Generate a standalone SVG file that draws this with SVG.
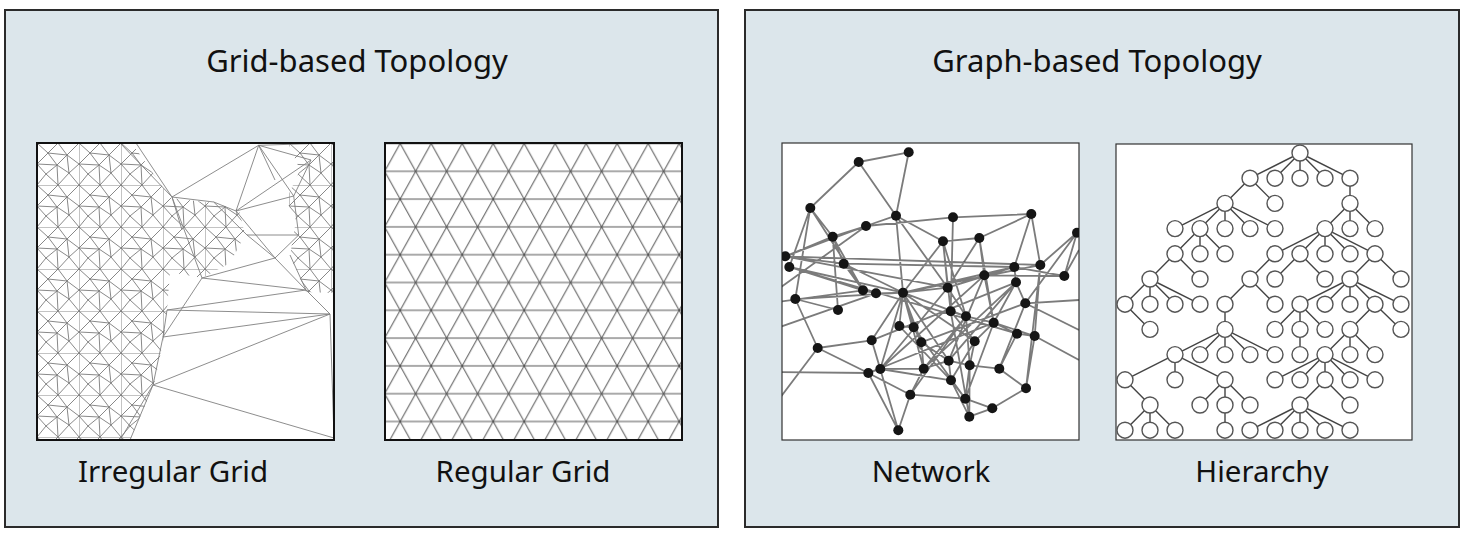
<svg xmlns="http://www.w3.org/2000/svg" width="1468" height="534" viewBox="0 0 1468 534">
<style>
.panel{fill:#dce6eb;stroke:#2b2b2b;stroke-width:2}
.title{font-family:"Noto Sans","Liberation Sans",sans-serif;font-size:31px;fill:#111;text-anchor:middle}
.lab{font-family:"Noto Sans","Liberation Sans",sans-serif;font-size:29.5px;fill:#111;text-anchor:middle}
.box{fill:#fff;stroke:#111;stroke-width:2}
.mesh{stroke:#808080;stroke-width:0.9;fill:none}
.net{stroke:#2a2a2a;stroke-opacity:0.62;stroke-width:1.8;fill:none}
.tree{stroke:#444;stroke-width:1.4;fill:none}
.tn{fill:#fff;stroke:#555;stroke-width:1.4}
.nn{fill:#151515}
</style>
<defs>
<pattern id="tri" patternUnits="userSpaceOnUse" x="400.2" y="199.1" width="31" height="55.6">
<path d="M0,0H31M0,27.8H31M0,55.6H31M0,0L31,55.6M31,0L0,55.6" stroke="#555" stroke-width="1" fill="none"/>
</pattern>
<pattern id="irr" patternUnits="userSpaceOnUse" x="37" y="143" width="42" height="42">
<path d="M0,0H42M0,0V42M0,0L11,10M21,0L11,10M21,0L30,12M42,0L30,12M11,10L30,12M11,10L20,22M30,12L20,22M30,12L42,21M30,12L32,30M42,21L32,30M20,22L32,30M0,21L11,10M0,21L20,22M0,21L9,31M9,31L20,22M9,31L0,42M9,31L21,42M20,22L21,42M32,30L21,42M32,30L42,42" stroke="#7a7a7a" stroke-width="0.9" fill="none"/>
</pattern>
<clipPath id="c1"><rect x="37" y="143" width="297" height="297"/></clipPath>
<clipPath id="c3"><rect x="782" y="143" width="297" height="297"/></clipPath>
</defs>

<g id="panel-grid">
<rect class="panel" x="5" y="10" width="713" height="517"/>
<text class="title" x="357" y="72">Grid-based Topology</text>
</g>
<g id="panel-graph">
<rect class="panel" x="745" y="10" width="714" height="517"/>
<text class="title" x="1097" y="72">Graph-based Topology</text>
</g>

<g id="irregular-grid">
<rect class="box" x="37" y="143" width="297" height="297"/>
<g clip-path="url(#c1)">
<polygon fill="url(#irr)" points="37,143 132,143 170,198 214,203 239,210 245,235 230,263 202,278 170,272 167,310 164,337 154,385 130,440 37,440"/>
<polygon fill="url(#irr)" points="288,143 334,143 334,293 306,292 290,256 296,220 286,200 300,170"/>
<path class="mesh" d="M172,197L258.7,145.3M172,197L213.7,202M258.7,145.3L236,211M258.7,145.3L311,160M258.7,145.3L293.7,196M236,211L293.7,196M236,211L311,160M247,235L298.7,235M213.7,202L236,211M311,160L293.7,196M293.7,196L298.7,235M298.7,235L275,258M247,235L275,258M202,278L275,258M202,278L306,290M167,310L306,290M167,310L330,314M163,337L330,314M153,385L330,314M153,385L334,438M306,290L330,314M330,314L334,438M130,440L153,385M163,337L153,385M167,310L163,337M120,143L172,197M136,143L172,197M258.7,145.3L330,143M172,197L182,230M213.7,202L247,235M275,258L306,290M290,255L306,290M258.7,145.3L275,180M236,211L275,258M172,197L202,278M163,337L202,278M153,385L120,440"/>
</g>
<rect x="37" y="143" width="297" height="297" fill="none" stroke="#111" stroke-width="2"/>
<text class="lab" x="173" y="482">Irregular Grid</text>
</g>

<g id="regular-grid">
<rect x="385" y="143" width="297" height="297" fill="#fff"/>
<rect x="385" y="143" width="297" height="297" fill="url(#tri)"/>
<rect x="385" y="143" width="297" height="297" fill="none" stroke="#111" stroke-width="2"/>
<text class="lab" x="523" y="482">Regular Grid</text>
</g>

<g id="network">
<rect x="782" y="143" width="297" height="297" fill="#fff" stroke="#333" stroke-width="1.2"/>
<g clip-path="url(#c3)">
<path class="net" d="M858.7,162L908.7,152.3M858.7,162L810.3,208M858.7,162L896,215.7M908.7,152.3L896,215.7M810.3,208L832.7,236.7M810.3,208L789.3,267M810.3,208L795.3,299M810.3,208L863,290.3M832.7,236.7L843.7,263.7M832.7,236.7L866,226M832.7,236.7L838,310M832.7,236.7L863,290.3M832.7,236.7L785.3,256.3M866,226L896,215.7M866,226L953,217.3M866,226L785.3,256.3M896,215.7L903,292.7M896,215.7L943,241.3M896,215.7L947.7,287.7M953,217.3L1031.3,214M953,217.3L950.7,311.3M1031.3,214L1014.3,267M1031.3,214L1040.3,265M1031.3,214L979.3,238M979.3,238L984.3,275.3M979.3,238L947.7,287.7M979.3,238L943,241.3M979.3,238L993.7,322.7M943,241.3L947.7,287.7M943,241.3L950.7,311.3M943,241.3L903,292.7M943,241.3L966,316.3M1077,232.7L1040.3,265M1077,232.7L1064.3,276M1077,232.7L1025.3,303.3M1040.3,265L1026,388.3M1040.3,265L1034.7,336M1064.3,276L1014.3,267M1064.3,276L984.3,275.3M785.3,256.3L843.7,263.7M785.3,256.3L947.7,287.7M789.3,267L863,290.3M789.3,267L1017,333.7M795.3,299L903,292.7M795.3,299L817.7,348M795.3,299L838,310M843.7,263.7L863,290.3M843.7,263.7L903,292.7M863,290.3L876,293.3M876,293.3L903,292.7M903,292.7L947.7,287.7M903,292.7L899.3,326M903,292.7L913.7,327.3M903,292.7L871.7,340.3M903,292.7L948.7,360.7M903,292.7L921.3,342.3M903,292.7L923.7,368.7M947.7,287.7L984.3,275.3M947.7,287.7L966,316.3M947.7,287.7L1014.3,267M947.7,287.7L880.3,369M984.3,275.3L1014.3,267M984.3,275.3L993.7,322.7M984.3,275.3L948.7,360.7M1014.3,267L1016,282.3M1016,282.3L993.7,322.7M1016,282.3L1025.3,303.3M1016,282.3L871.7,340.3M993.7,322.7L966,316.3M993.7,322.7L1017,333.7M993.7,322.7L1034.7,336M993.7,322.7L974.7,341.3M993.7,322.7L868.3,373M993.7,322.7L965.3,398.7M966,316.3L950.7,311.3M966,316.3L923.7,368.7M966,316.3L969.7,365.3M950.7,311.3L974.7,341.3M1025.3,303.3L999.3,368.7M1025.3,303.3L921.3,342.3M1017,333.7L1034.7,336M1017,333.7L999.3,368.7M1034.7,336L1026,388.3M871.7,340.3L880.3,369M871.7,340.3L898.3,430.3M871.7,340.3L817.7,348M921.3,342.3L923.7,368.7M921.3,342.3L948.7,360.7M974.7,341.3L969.7,365.3M974.7,341.3L951,380.3M817.7,348L868.3,373M868.3,373L880.3,369M868.3,373L910.3,394.7M868.3,373L898.3,430.3M880.3,369L923.7,368.7M880.3,369L951,380.3M923.7,368.7L948.7,360.7M923.7,368.7L910.3,394.7M948.7,360.7L969.7,365.3M948.7,360.7L951,380.3M969.7,365.3L999.3,368.7M969.7,365.3L965.3,398.7M999.3,368.7L1026,388.3M951,380.3L965.3,398.7M951,380.3L969.3,416.7M910.3,394.7L898.3,430.3M910.3,394.7L965.3,398.7M965.3,398.7L992.3,408.3M992.3,408.3L1026,388.3M969.3,416.7L992.3,408.3M969.3,416.7L969.7,365.3M899.3,326L913.7,327.3M913.7,327.3L921.3,342.3M777,250L785.3,256.3M777,302L863,290.3M777,328L876,293.3M777,372L868.3,373M777,290L866,226M777,402L817.7,348M1079,300L1025.3,303.3M903,292.7L1014.3,267M903,292.7L966,316.3M903,292.7L974.7,341.3M903,292.7L880.3,369M1016,282.3L948.7,360.7M1016,282.3L923.7,368.7M984.3,275.3L880.3,369M1040.3,265L903,292.7M1064.3,276L1079,250M785.3,256.3L1040.3,265M789.3,267L903,292.7M843.7,263.7L1014.3,267M966,316.3L910.3,394.7M950.7,311.3L969.3,416.7M1025.3,303.3L1079,330M1034.7,336L1079,360M899.3,326L951,380.3M913.7,327.3L965.3,398.7"/>
<g class="nn">
<circle cx="858.7" cy="162" r="5"/><circle cx="908.7" cy="152.3" r="5"/><circle cx="810.3" cy="208" r="5"/><circle cx="896" cy="215.7" r="5"/><circle cx="866" cy="226" r="5"/><circle cx="953" cy="217.3" r="5"/><circle cx="1031.3" cy="214" r="5"/><circle cx="832.7" cy="236.7" r="5"/><circle cx="943" cy="241.3" r="5"/><circle cx="979.3" cy="238" r="5"/><circle cx="1077" cy="232.7" r="5"/><circle cx="785.3" cy="256.3" r="5"/><circle cx="789.3" cy="267" r="5"/><circle cx="843.7" cy="263.7" r="5"/><circle cx="1014.3" cy="267" r="5"/><circle cx="1040.3" cy="265" r="5"/><circle cx="984.3" cy="275.3" r="5"/><circle cx="1064.3" cy="276" r="5"/><circle cx="1016" cy="282.3" r="5"/><circle cx="863" cy="290.3" r="5"/><circle cx="876" cy="293.3" r="5"/><circle cx="903" cy="292.7" r="5"/><circle cx="947.7" cy="287.7" r="5"/><circle cx="795.3" cy="299" r="5"/><circle cx="838" cy="310" r="5"/><circle cx="950.7" cy="311.3" r="5"/><circle cx="966" cy="316.3" r="5"/><circle cx="1025.3" cy="303.3" r="5"/><circle cx="993.7" cy="322.7" r="5"/><circle cx="899.3" cy="326" r="5"/><circle cx="913.7" cy="327.3" r="5"/><circle cx="1017" cy="333.7" r="5"/><circle cx="1034.7" cy="336" r="5"/><circle cx="871.7" cy="340.3" r="5"/><circle cx="921.3" cy="342.3" r="5"/><circle cx="974.7" cy="341.3" r="5"/><circle cx="817.7" cy="348" r="5"/><circle cx="948.7" cy="360.7" r="5"/><circle cx="969.7" cy="365.3" r="5"/><circle cx="999.3" cy="368.7" r="5"/><circle cx="868.3" cy="373" r="5"/><circle cx="880.3" cy="369" r="5"/><circle cx="923.7" cy="368.7" r="5"/><circle cx="951" cy="380.3" r="5"/><circle cx="1026" cy="388.3" r="5"/><circle cx="910.3" cy="394.7" r="5"/><circle cx="965.3" cy="398.7" r="5"/><circle cx="992.3" cy="408.3" r="5"/><circle cx="969.3" cy="416.7" r="5"/><circle cx="898.3" cy="430.3" r="5"/>
</g>
</g>
<text class="lab" x="931" y="482">Network</text>
</g>

<g id="hierarchy">
<rect x="1116" y="144" width="296" height="296" fill="#fff" stroke="#333" stroke-width="1.2"/>
<g id="tree-links" class="tree">
<path d="M1300,153L1250,178.2M1300,153L1275,178.2M1300,153L1300,178.2M1300,153L1325,178.2M1300,153L1350,178.2
M1250,178.2L1225,203.4M1250,178.2L1275,203.4M1350,178.2L1350,203.4
M1225,203.4L1175,228.6M1225,203.4L1200,228.6M1225,203.4L1225,228.6M1225,203.4L1250,228.6M1225,203.4L1275,228.6
M1350,203.4L1325,228.6M1350,203.4L1350,228.6M1350,203.4L1375,228.6
M1200,228.6L1175,253.8M1200,228.6L1200,253.8M1200,228.6L1225,253.8
M1325,228.6L1275,253.8M1325,228.6L1300,253.8M1325,228.6L1325,253.8M1325,228.6L1350,253.8M1325,228.6L1375,253.8
M1175,253.8L1150,279M1175,253.8L1200,279M1275,253.8L1250,279M1300,253.8L1275,279M1300,253.8L1325,279M1375,253.8L1350,279M1375,253.8L1401,279
M1150,279L1125,304.2M1150,279L1150,304.2M1150,279L1175,304.2M1150,279L1200,304.2
M1250,279L1225,304.2M1250,279L1275,304.2
M1350,279L1300,304.2M1350,279L1325,304.2M1350,279L1350,304.2M1350,279L1375,304.2M1350,279L1401,304.2
M1125,304.2L1150,329.4M1225,304.2L1225,329.4M1300,304.2L1275,329.4M1300,304.2L1300,329.4M1300,304.2L1325,329.4M1375,304.2L1350,329.4M1375,304.2L1401,329.4
M1225,329.4L1175,354.6M1225,329.4L1200,354.6M1225,329.4L1225,354.6M1225,329.4L1250,354.6M1225,329.4L1275,354.6
M1300,329.4L1300,354.6M1350,329.4L1325,354.6M1350,329.4L1350,354.6M1350,329.4L1375,354.6
M1175,354.6L1125,379.8M1175,354.6L1175,379.8M1175,354.6L1225,379.8
M1325,354.6L1275,379.8M1325,354.6L1300,379.8M1325,354.6L1325,379.8M1325,354.6L1350,379.8M1325,354.6L1375,379.8
M1125,379.8L1150,405M1225,379.8L1200,405M1225,379.8L1225,405M1225,379.8L1250,405M1325,379.8L1300,405M1325,379.8L1350,405
M1150,405L1125,430.2M1150,405L1150,430.2M1150,405L1175,430.2M1225,405L1225,430.2
M1300,405L1250,430.2M1300,405L1275,430.2M1300,405L1300,430.2M1300,405L1325,430.2M1300,405L1350,430.2"/>
</g>
<g class="tn">
<circle cx="1300" cy="153" r="8"/>
<circle cx="1250" cy="178.2" r="8"/><circle cx="1275" cy="178.2" r="8"/><circle cx="1300" cy="178.2" r="8"/><circle cx="1325" cy="178.2" r="8"/><circle cx="1350" cy="178.2" r="8"/>
<circle cx="1225" cy="203.4" r="8"/><circle cx="1275" cy="203.4" r="8"/><circle cx="1350" cy="203.4" r="8"/>
<circle cx="1175" cy="228.6" r="8"/><circle cx="1200" cy="228.6" r="8"/><circle cx="1225" cy="228.6" r="8"/><circle cx="1250" cy="228.6" r="8"/><circle cx="1275" cy="228.6" r="8"/><circle cx="1325" cy="228.6" r="8"/><circle cx="1350" cy="228.6" r="8"/><circle cx="1375" cy="228.6" r="8"/>
<circle cx="1175" cy="253.8" r="8"/><circle cx="1200" cy="253.8" r="8"/><circle cx="1225" cy="253.8" r="8"/><circle cx="1275" cy="253.8" r="8"/><circle cx="1300" cy="253.8" r="8"/><circle cx="1325" cy="253.8" r="8"/><circle cx="1350" cy="253.8" r="8"/><circle cx="1375" cy="253.8" r="8"/>
<circle cx="1150" cy="279" r="8"/><circle cx="1200" cy="279" r="8"/><circle cx="1250" cy="279" r="8"/><circle cx="1275" cy="279" r="8"/><circle cx="1325" cy="279" r="8"/><circle cx="1350" cy="279" r="8"/><circle cx="1401" cy="279" r="8"/>
<circle cx="1125" cy="304.2" r="8"/><circle cx="1150" cy="304.2" r="8"/><circle cx="1175" cy="304.2" r="8"/><circle cx="1200" cy="304.2" r="8"/><circle cx="1225" cy="304.2" r="8"/><circle cx="1275" cy="304.2" r="8"/><circle cx="1300" cy="304.2" r="8"/><circle cx="1325" cy="304.2" r="8"/><circle cx="1350" cy="304.2" r="8"/><circle cx="1375" cy="304.2" r="8"/><circle cx="1401" cy="304.2" r="8"/>
<circle cx="1150" cy="329.4" r="8"/><circle cx="1225" cy="329.4" r="8"/><circle cx="1275" cy="329.4" r="8"/><circle cx="1300" cy="329.4" r="8"/><circle cx="1325" cy="329.4" r="8"/><circle cx="1350" cy="329.4" r="8"/><circle cx="1401" cy="329.4" r="8"/>
<circle cx="1175" cy="354.6" r="8"/><circle cx="1200" cy="354.6" r="8"/><circle cx="1225" cy="354.6" r="8"/><circle cx="1250" cy="354.6" r="8"/><circle cx="1275" cy="354.6" r="8"/><circle cx="1300" cy="354.6" r="8"/><circle cx="1325" cy="354.6" r="8"/><circle cx="1350" cy="354.6" r="8"/><circle cx="1375" cy="354.6" r="8"/>
<circle cx="1125" cy="379.8" r="8"/><circle cx="1175" cy="379.8" r="8"/><circle cx="1225" cy="379.8" r="8"/><circle cx="1275" cy="379.8" r="8"/><circle cx="1300" cy="379.8" r="8"/><circle cx="1325" cy="379.8" r="8"/><circle cx="1350" cy="379.8" r="8"/><circle cx="1375" cy="379.8" r="8"/>
<circle cx="1150" cy="405" r="8"/><circle cx="1200" cy="405" r="8"/><circle cx="1225" cy="405" r="8"/><circle cx="1250" cy="405" r="8"/><circle cx="1300" cy="405" r="8"/><circle cx="1350" cy="405" r="8"/>
<circle cx="1125" cy="430.2" r="8"/><circle cx="1150" cy="430.2" r="8"/><circle cx="1175" cy="430.2" r="8"/><circle cx="1225" cy="430.2" r="8"/><circle cx="1250" cy="430.2" r="8"/><circle cx="1275" cy="430.2" r="8"/><circle cx="1300" cy="430.2" r="8"/><circle cx="1325" cy="430.2" r="8"/><circle cx="1350" cy="430.2" r="8"/>
</g>
<text class="lab" x="1262" y="482">Hierarchy</text>
</g>
</svg>
